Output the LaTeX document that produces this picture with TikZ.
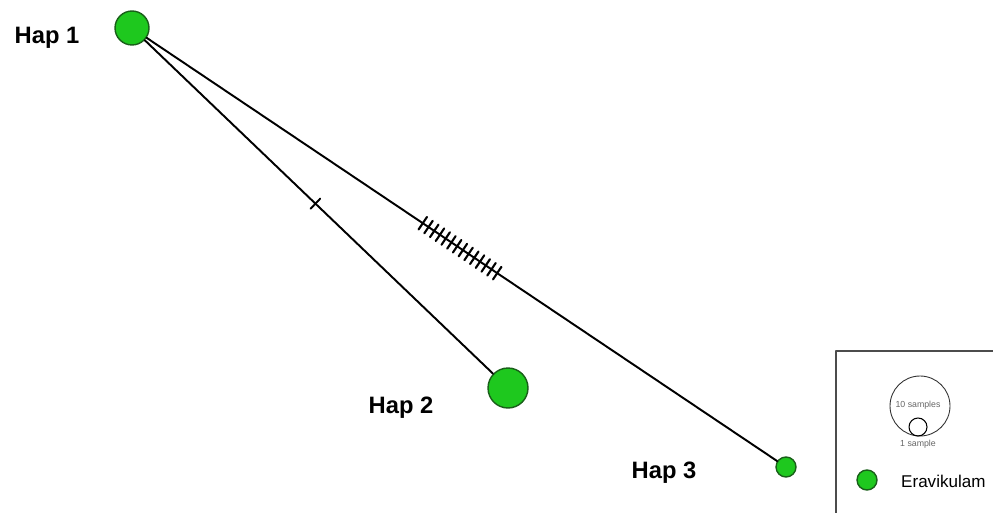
\documentclass[tikz,border=0pt]{standalone}
\usepackage{fontspec}
\setmainfont{Liberation Sans}
\usetikzlibrary{decorations.markings}
\definecolor{hapgreen}{RGB}{30,200,30}
\definecolor{hapedge}{RGB}{25,95,25}

\begin{document}
\begin{tikzpicture}[x=0.02cm, y=-0.02cm, line join=round, line cap=round,
		hap/.style={circle, fill=hapgreen, draw=hapedge, line width=0.8pt, inner sep=0pt},
		lbl/.style={font=\fontsize{13.5}{15}\selectfont\bfseries},
		edge/.style={line width=1.1pt},
		tickmarks/.style={postaction={decorate, decoration={markings,
			mark=between positions 0.438 and 0.558 step 0.00908 with {\draw[line width=1.2pt] (0,-4.3pt) -- (0,4.3pt);}}}},
		onetick/.style={postaction={decorate, decoration={markings,
			mark=at position 0.49 with {\draw[line width=1.1pt] (0,-4pt) -- (0,4pt);}}}}]
	\useasboundingbox (0,0) rectangle (993,513);
	% haplotypes
	\node[hap, minimum size=0.68cm] (h1) at (132,28) {};
	\node[hap, minimum size=0.80cm] (h2) at (508,388) {};
	\node[hap, minimum size=0.40cm] (h3) at (786,467) {};
	\node[lbl] (l1) at (47,38) {Hap 1};
	\node[lbl] (l2) at (401,408) {Hap 2};
	\node[lbl] (l3) at (664,473) {Hap 3};
	% mutational steps
	\draw[edge, onetick] (h1) -- (h2);
	\draw[edge, tickmarks] (h1) -- (h3);
	% legend
	\draw[black!70, line width=0.6pt] (993,351) -- (836,351) -- (836,513);
	\node[circle, draw=black!80, line width=0.5pt, minimum size=1.2cm, inner sep=0pt] (big) at (920,406) {};
	\node[circle, draw=black, line width=0.6pt, minimum size=0.36cm, inner sep=0pt] (small) at (918,427) {};
	\node[font=\fontsize{5}{6}\selectfont, text=black!60] at (918,405) {10 samples};
	\node[font=\fontsize{5}{6}\selectfont, text=black!60] at (918,444) {1 sample};
	\node[hap, minimum size=0.4cm] (key) at (867,480) {};
	\node[font=\fontsize{9.7}{11}\selectfont, right] (keytxt) at (895,481) {Eravikulam};
\end{tikzpicture}
\end{document}
